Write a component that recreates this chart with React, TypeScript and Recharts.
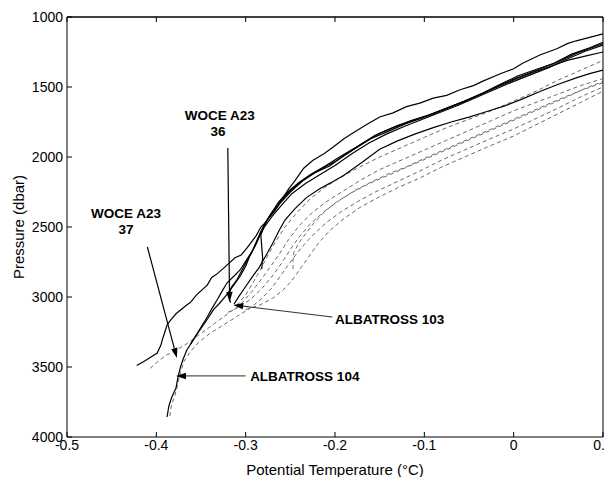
import React from "react";
import {
  LineChart,
  Line,
  XAxis,
  YAxis,
  CartesianGrid,
  ReferenceLine,
  ReferenceDot,
} from "recharts";

// potential temperature (°C) vs pressure (dbar) profiles
const X_TICKS = [-0.5, -0.4, -0.3, -0.2, -0.1, 0, 0.1];
const Y_TICKS = [1000, 1500, 2000, 2500, 3000, 3500, 4000];

type Pt = [number, number];

// solid profiles (WOCE A23)
const woceTop: Pt[] = [
  [-0.422, 3490], [-0.414, 3460], [-0.41, 3445], [-0.399, 3400], [-0.395, 3345],
  [-0.393, 3300], [-0.388, 3200], [-0.384, 3165], [-0.378, 3120], [-0.366, 3057],
  [-0.362, 3040], [-0.355, 2985], [-0.343, 2915], [-0.338, 2860], [-0.333, 2840],
  [-0.324, 2790], [-0.312, 2720], [-0.305, 2700], [-0.298, 2645], [-0.288, 2560],
  [-0.283, 2500], [-0.278, 2470], [-0.27, 2390], [-0.265, 2350], [-0.258, 2290],
  [-0.252, 2230], [-0.245, 2170], [-0.235, 2080], [-0.225, 2025], [-0.212, 1975],
  [-0.202, 1929], [-0.19, 1870], [-0.18, 1829], [-0.165, 1770], [-0.15, 1714],
  [-0.135, 1685], [-0.12, 1640], [-0.105, 1615], [-0.09, 1580], [-0.075, 1560],
  [-0.06, 1520], [-0.045, 1490], [-0.035, 1460], [-0.015, 1405], [0.0, 1370],
  [0.01, 1330], [0.02, 1300], [0.03, 1270], [0.049, 1225], [0.06, 1190],
  [0.07, 1170], [0.085, 1145], [0.1, 1121],
];

const woce37: Pt[] = [
  [-0.388, 3857], [-0.386, 3780], [-0.383, 3720], [-0.378, 3650], [-0.376, 3580],
  [-0.373, 3500], [-0.37, 3445], [-0.366, 3380], [-0.361, 3330], [-0.354, 3257],
  [-0.349, 3205], [-0.343, 3143], [-0.338, 3085], [-0.332, 3021], [-0.327, 2965],
  [-0.321, 2900], [-0.313, 2850], [-0.306, 2805], [-0.299, 2735], [-0.292, 2664],
  [-0.287, 2590], [-0.282, 2530], [-0.276, 2450], [-0.268, 2390], [-0.262, 2335],
  [-0.25, 2250], [-0.236, 2170], [-0.222, 2110], [-0.206, 2065], [-0.19, 1990],
  [-0.17, 1905], [-0.15, 1830], [-0.13, 1775], [-0.11, 1735], [-0.09, 1690],
  [-0.07, 1640], [-0.05, 1590], [-0.03, 1530], [-0.015, 1485], [0.005, 1430],
  [0.03, 1370], [0.05, 1320], [0.07, 1260], [0.085, 1225], [0.1, 1190],
];

const woce36: Pt[] = [
  [-0.317, 3040], [-0.319, 2990], [-0.316, 2930], [-0.31, 2880], [-0.306, 2830],
  [-0.3, 2760], [-0.293, 2680], [-0.287, 2600], [-0.284, 2545], [-0.278, 2470],
  [-0.271, 2400], [-0.263, 2320], [-0.253, 2250], [-0.24, 2180], [-0.226, 2120],
  [-0.21, 2060], [-0.195, 2000], [-0.175, 1925], [-0.155, 1845], [-0.135, 1790],
  [-0.115, 1740], [-0.095, 1700], [-0.075, 1650], [-0.055, 1600], [-0.035, 1545],
  [-0.015, 1480], [0.005, 1420], [0.025, 1375], [0.045, 1330], [0.065, 1265],
  [0.085, 1220], [0.1, 1180],
];

const woceShort: Pt[] = [
  [-0.282, 2800], [-0.281, 2720], [-0.282, 2640], [-0.283, 2560], [-0.28, 2500],
  [-0.273, 2420], [-0.266, 2360], [-0.256, 2280], [-0.243, 2200], [-0.23, 2140],
  [-0.214, 2080], [-0.198, 2025], [-0.18, 1950], [-0.16, 1870], [-0.14, 1815],
  [-0.12, 1760], [-0.1, 1715], [-0.08, 1665], [-0.06, 1615], [-0.04, 1560],
  [-0.02, 1505], [0.0, 1450], [0.02, 1400], [0.04, 1355], [0.06, 1310],
  [0.08, 1280], [0.1, 1250],
];

const woceMid: Pt[] = [
  [-0.362, 3340], [-0.356, 3280], [-0.35, 3225], [-0.342, 3150], [-0.336, 3090],
  [-0.33, 3050], [-0.322, 2990], [-0.314, 2920], [-0.306, 2850], [-0.3, 2780],
  [-0.295, 2700], [-0.289, 2630], [-0.284, 2560], [-0.279, 2500], [-0.27, 2420],
  [-0.26, 2345], [-0.248, 2260], [-0.233, 2190], [-0.218, 2130], [-0.2, 2060],
  [-0.182, 1980], [-0.162, 1900], [-0.142, 1835], [-0.122, 1780], [-0.102, 1730],
  [-0.082, 1680], [-0.062, 1630], [-0.042, 1575], [-0.022, 1520], [-0.002, 1465],
  [0.02, 1410], [0.04, 1360], [0.06, 1300], [0.08, 1245], [0.1, 1200],
];

const woceLow: Pt[] = [
  [-0.313, 3050], [-0.307, 2990], [-0.3, 2925], [-0.293, 2860], [-0.285, 2790],
  [-0.277, 2700], [-0.27, 2620], [-0.263, 2530], [-0.256, 2450], [-0.245, 2370],
  [-0.232, 2290], [-0.218, 2230], [-0.205, 2185], [-0.19, 2130], [-0.17, 2040],
  [-0.15, 1945], [-0.13, 1885], [-0.11, 1835], [-0.09, 1790], [-0.07, 1750],
  [-0.05, 1715], [-0.03, 1675], [-0.01, 1635], [0.01, 1585], [0.03, 1530],
  [0.05, 1480], [0.07, 1435], [0.085, 1405], [0.1, 1380],
];

// dashed profiles (ALBATROSS)
const alb1: Pt[] = [
  [-0.31, 3060], [-0.3, 2985], [-0.292, 2900], [-0.283, 2800], [-0.275, 2700],
  [-0.266, 2600], [-0.256, 2500], [-0.243, 2400], [-0.228, 2300], [-0.212, 2220],
  [-0.195, 2150], [-0.175, 2080], [-0.15, 2000], [-0.125, 1930], [-0.1, 1860],
  [-0.075, 1790], [-0.05, 1730], [-0.025, 1670], [0.0, 1600], [0.025, 1530],
  [0.05, 1450], [0.075, 1380], [0.1, 1310],
];

const alb104: Pt[] = [
  [-0.407, 3510], [-0.4, 3470], [-0.39, 3420], [-0.378, 3380], [-0.365, 3330],
  [-0.35, 3260], [-0.335, 3190], [-0.32, 3120], [-0.305, 3050], [-0.293, 2960],
  [-0.282, 2870], [-0.272, 2780], [-0.262, 2690], [-0.252, 2590], [-0.24, 2490],
  [-0.226, 2400], [-0.21, 2320], [-0.19, 2240], [-0.17, 2160], [-0.15, 2090],
  [-0.125, 2020], [-0.1, 1950], [-0.075, 1880], [-0.05, 1810], [-0.025, 1740],
  [0.0, 1670], [0.025, 1610], [0.05, 1550], [0.075, 1490], [0.1, 1440],
];

const alb3: Pt[] = [
  [-0.247, 2800], [-0.247, 2740], [-0.246, 2680], [-0.24, 2610], [-0.232, 2540],
  [-0.222, 2460], [-0.21, 2380], [-0.195, 2310], [-0.178, 2240], [-0.16, 2180],
  [-0.14, 2120], [-0.12, 2070], [-0.1, 2010], [-0.075, 1940], [-0.05, 1870],
  [-0.025, 1800], [0.0, 1730], [0.025, 1660], [0.05, 1590], [0.075, 1525],
  [0.1, 1470],
];

const alb103: Pt[] = [
  [-0.385, 3850], [-0.383, 3770], [-0.379, 3700], [-0.376, 3620], [-0.373, 3540],
  [-0.369, 3460], [-0.362, 3390], [-0.352, 3320], [-0.34, 3260], [-0.325, 3200],
  [-0.31, 3140], [-0.295, 3080], [-0.282, 3010], [-0.27, 2930], [-0.26, 2840],
  [-0.25, 2750], [-0.238, 2650], [-0.225, 2560], [-0.21, 2470], [-0.193, 2390],
  [-0.175, 2320], [-0.155, 2250], [-0.13, 2175], [-0.105, 2100], [-0.08, 2020],
  [-0.055, 1950], [-0.03, 1880], [0.0, 1800], [0.025, 1725], [0.05, 1650],
  [0.075, 1570], [0.1, 1500],
];

const alb5: Pt[] = [
  [-0.3, 3090], [-0.285, 3060], [-0.27, 3010], [-0.258, 2950], [-0.248, 2880],
  [-0.238, 2790], [-0.228, 2700], [-0.218, 2610], [-0.205, 2520], [-0.19, 2440],
  [-0.172, 2360], [-0.152, 2290], [-0.13, 2220], [-0.105, 2150], [-0.08, 2070],
  [-0.055, 2000], [-0.03, 1930], [0.0, 1850], [0.025, 1770], [0.05, 1690],
  [0.075, 1610], [0.1, 1530],
];

const alb6: Pt[] = [
  [-0.32, 3110], [-0.31, 3080], [-0.295, 3020], [-0.282, 2940], [-0.27, 2850],
  [-0.26, 2760], [-0.25, 2660], [-0.24, 2570], [-0.228, 2480], [-0.214, 2400],
  [-0.198, 2320], [-0.18, 2250], [-0.16, 2185], [-0.14, 2130], [-0.115, 2060],
  [-0.09, 1990], [-0.065, 1920], [-0.04, 1850], [-0.015, 1780], [0.01, 1710],
  [0.035, 1640], [0.06, 1570], [0.08, 1510], [0.1, 1460],
];

const SOLID = [woceTop, woce37, woce36, woceShort, woceMid, woceLow];
const DASHED = [alb1, alb104, alb3, alb103, alb5, alb6];

// frame corners, used only so the right axis gets drawn
const FRAME: Pt[] = [
  [-0.5, 1000],
  [0.1, 4000],
];

// annotation arrows [from, to] and labels, in data units
const ARROWS: [Pt, Pt, string][] = [
  [[-0.32, 1935], [-0.318, 3035], "#000"],
  [[-0.41, 2643], [-0.377, 3436], "#000"],
  [[-0.203, 3143], [-0.314, 3057], "#333"],
  [[-0.3, 3564], [-0.378, 3564], "#555"],
];

const LABELS: { t: number; p: number; text: string; anchor: "start" | "middle" }[] = [
  { t: -0.329, p: 1707, text: "WOCE A23", anchor: "middle" },
  { t: -0.331, p: 1821, text: "36", anchor: "middle" },
  { t: -0.434, p: 2407, text: "WOCE A23", anchor: "middle" },
  { t: -0.434, p: 2521, text: "37", anchor: "middle" },
  { t: -0.2, p: 3164, text: "ALBATROSS 103", anchor: "start" },
  { t: -0.295, p: 3571, text: "ALBATROSS 104", anchor: "start" },
];

const FONT = "'Liberation Sans', Arial, Helvetica, sans-serif";

const rows = (pts: Pt[]) => pts.map(([t, p]) => ({ t, p }));

function arrowShape(color: string) {
  return (props: any) => {
    const { x1, y1, x2, y2 } = props;
    const a = Math.atan2(y2 - y1, x2 - x1);
    const len = 10;
    const w = 3.2;
    const bx = x2 - len * Math.cos(a);
    const by = y2 - len * Math.sin(a);
    const px = -Math.sin(a) * w;
    const py = Math.cos(a) * w;
    return (
      <g>
        <line x1={x1} y1={y1} x2={bx} y2={by} stroke={color} strokeWidth={1.2} />
        <polygon
          points={`${x2},${y2} ${bx + px},${by + py} ${bx - px},${by - py}`}
          fill="#000"
        />
      </g>
    );
  };
}

// top edge of the box with inward ticks; the scale is taken from an anchor
// segment that sits well inside the plot (no zero coordinates)
const ANCHOR: Pt[] = [
  [-0.4, 1500],
  [-0.1, 2000],
];

const topFrame = (props: any) => {
  const { x1, y1, x2, y2 } = props;
  const sx = (x2 - x1) / (ANCHOR[1][0] - ANCHOR[0][0]);
  const sy = (y2 - y1) / (ANCHOR[1][1] - ANCHOR[0][1]);
  const px = (t: number) => x1 + (t - ANCHOR[0][0]) * sx;
  const yTop = y1 + (Y_TICKS[0] - ANCHOR[0][1]) * sy;
  return (
    <g>
      <line
        x1={px(X_TICKS[0])}
        y1={yTop}
        x2={px(X_TICKS[X_TICKS.length - 1])}
        y2={yTop}
        stroke="#000"
        strokeWidth={1}
      />
      {X_TICKS.map((t, i) => (
        <line
          key={i}
          x1={px(t)}
          y1={yTop}
          x2={px(t)}
          y2={yTop + 5}
          stroke="#000"
          strokeWidth={1}
        />
      ))}
    </g>
  );
};

function labelShape(text: string, anchor: "start" | "middle") {
  return (props: any) => (
    <text
      x={props.cx}
      y={props.cy}
      textAnchor={anchor}
      dominantBaseline="central"
      fontSize={13.5}
      fontWeight="bold"
      fontFamily={FONT}
      fill="#000"
    >
      {text}
    </text>
  );
}

const tickStyle = { fill: "#000", fontSize: 14, fontFamily: FONT };

export default function App() {
  return (
    <LineChart
      width={605}
      height={469}
      margin={{ top: 9, right: 9, left: 0, bottom: 0 }}
    >
      <CartesianGrid
        vertical={false}
        horizontalCoordinatesGenerator={(p: any) => [p.offset.top]}
        stroke="#000"
        strokeDasharray="0"
      />
      <XAxis
        type="number"
        dataKey="t"
        domain={[-0.5, 0.1]}
        ticks={X_TICKS}
        allowDataOverflow
        tickSize={-5}
        tickMargin={8}
        height={40}
        stroke="#000"
        tick={tickStyle}
        label={{
          value: "Potential Temperature (°C)",
          position: "center",
          dy: 13,
          fill: "#000",
          fontSize: 15,
          fontFamily: FONT,
        }}
      />
      <YAxis
        type="number"
        dataKey="p"
        domain={[1000, 4000]}
        ticks={Y_TICKS}
        reversed
        allowDataOverflow
        tickSize={-5}
        tickMargin={9}
        width={59}
        stroke="#000"
        tick={tickStyle}
        label={{
          value: "Pressure (dbar)",
          angle: -90,
          position: "center",
          dx: -19,
          fill: "#000",
          fontSize: 15,
          fontFamily: FONT,
        }}
      />
      <YAxis
        yAxisId="right"
        orientation="right"
        type="number"
        dataKey="p"
        domain={[1000, 4000]}
        ticks={Y_TICKS}
        reversed
        allowDataOverflow
        tickSize={-5}
        width={1}
        stroke="#000"
        tick={false}
      />
      <Line
        yAxisId="right"
        data={rows(FRAME)}
        dataKey="p"
        stroke="none"
        dot={false}
        activeDot={false}
        isAnimationActive={false}
      />
      {DASHED.map((pts, i) => (
        <Line
          key={`d${i}`}
          data={rows(pts)}
          dataKey="p"
          type="linear"
          stroke="#6a6a6a"
          strokeWidth={1}
          strokeDasharray="4 3"
          dot={false}
          activeDot={false}
          isAnimationActive={false}
        />
      ))}
      {SOLID.map((pts, i) => (
        <Line
          key={`s${i}`}
          data={rows(pts)}
          dataKey="p"
          type="linear"
          stroke="#000"
          strokeWidth={1.2}
          dot={false}
          activeDot={false}
          isAnimationActive={false}
        />
      ))}
      {[ANCHOR].map((seg, i) => (
        <ReferenceLine
          key={`f${i}`}
          segment={[
            { x: seg[0][0], y: seg[0][1] },
            { x: seg[1][0], y: seg[1][1] },
          ]}
          ifOverflow="visible"
          shape={topFrame}
        />
      ))}
      {ARROWS.map(([from, to, color], i) => (
        <ReferenceLine
          key={`a${i}`}
          segment={[
            { x: from[0], y: from[1] },
            { x: to[0], y: to[1] },
          ]}
          ifOverflow="visible"
          shape={arrowShape(color)}
        />
      ))}
      {LABELS.map((l, i) => (
        <ReferenceDot
          key={`l${i}`}
          x={l.t}
          y={l.p}
          r={0}
          ifOverflow="visible"
          shape={labelShape(l.text, l.anchor)}
        />
      ))}
    </LineChart>
  );
}
